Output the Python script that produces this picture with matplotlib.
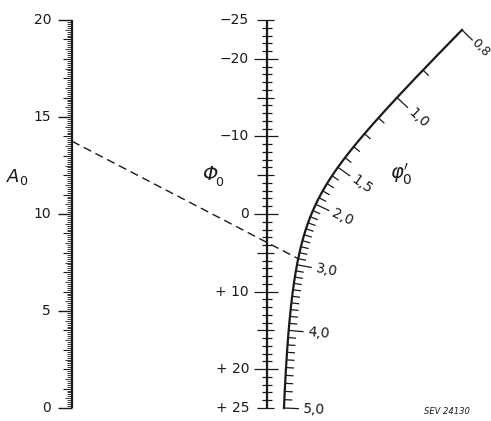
import numpy as np
import matplotlib
matplotlib.use("Agg")
import matplotlib.pyplot as plt

# ---------------- data ----------------
a0_labels = [0, 5, 10, 15, 20]
phi0_labels = [-25, -20, -10, 0, 10, 20, 25]
phi0_label_text = ["\u221225", "\u221220", "\u221210", "0", "+ 10", "+ 20", "+ 25"]
phip_labels = [0.8, 1.0, 1.5, 2.0, 3.0, 4.0, 5.0]
phip_label_text = ["0,8", "1,0", "1,5", "2,0", "3,0", "4,0", "5,0"]
a0_range = (0.0, 20.0, 0.1)      # start, stop, minor step
phi0_range = (-25, 25, 1)
phip_range = (0.8, 5.0, 0.1)
example_a0 = 13.75
example_phip = 2.9

# relation: Phi0 = phi'^2 - A0 / phi'
# nomogram geometry: A0 axis at x=0, Phi0 axis at x=1, heights 0..20
def y_a0(a):
    return np.asarray(a, float)

def y_phi0(p):
    return (25.0 - np.asarray(p, float)) / 2.5

def curve(f):
    f = np.asarray(f, float)
    t = 2.5 * f / (2.5 * f - 1.0)
    y = t * (25.0 - f ** 2) / 2.5
    return t, y

# ---------------- layout ----------------
W, H = 491, 421
SX, SY = 195.0, 19.4          # pixels per unit
X0, Y0 = 72.0, 408.0          # pixel position of (0,0)

plt.rcParams["mathtext.fontset"] = "dejavusans"
fig = plt.figure(figsize=(W / 100, H / 100), dpi=100)
ax = fig.add_axes([0, 0, 1, 1])
ax.set_xlim(-X0 / SX, (W - X0) / SX)
ax.set_ylim((Y0 - H) / SY, Y0 / SY)
ax.axis("off")

def pix(xp, yp):
    return (xp - X0) / SX, (Y0 - yp) / SY

K = "#1a1a1a"
LW_AX = 1.6
LW_T = 0.9
FS = 10

# ---------- A0 scale ----------
ax.plot([0, 0], [0, 20], color=K, lw=LW_AX, solid_capstyle="butt")
vals = np.round(np.arange(a0_range[0], a0_range[1] + 1e-9, a0_range[2]), 1)
for v in vals:
    lw = 0.6
    if abs(v / 5 - round(v / 5)) < 1e-6:
        L, lw = 14, 1.0
    elif abs(v - round(v)) < 1e-6:
        L, lw = 9, 0.8
    elif abs(v * 2 - round(v * 2)) < 1e-6:
        L = 7
    else:
        L = 5.5
    ax.plot([-L / SX, 0], [y_a0(v), y_a0(v)], color=K, lw=lw,
            solid_capstyle="butt")
for v in a0_labels:
    ax.text(-21 / SX, y_a0(v), str(v), ha="right", va="center", fontsize=FS, color=K)
ax.text(*pix(17, 177), r"$A_0$", ha="center", va="center", fontsize=13, color=K)

# ---------- Phi0 scale ----------
ax.plot([1, 1], [y_phi0(-25), y_phi0(25)], color=K, lw=LW_AX, solid_capstyle="butt")
for v in range(phi0_range[0], phi0_range[1] + 1, phi0_range[2]):
    if v in phi0_labels and abs(v) != 25:
        l, r = 13, 11
    elif v % 5 == 0:
        l, r = 10, 7
    else:
        l, r = 5, 5
    ax.plot([1 - l / SX, 1 + r / SX], [y_phi0(v), y_phi0(v)], color=K, lw=LW_T,
            solid_capstyle="butt")
for v, s in zip(phi0_labels, phi0_label_text):
    ax.text(1 - 18 / SX, y_phi0(v), s, ha="right", va="center", fontsize=FS, color=K)
ax.text(*pix(210, 174), "\u03a6", ha="center", va="center", fontsize=14,
        style="italic", color=K)
ax.text(*pix(215.5, 182), "0", ha="left", va="center", fontsize=9, color=K)

# ---------- phi' curved scale ----------
ff = np.linspace(phip_range[0], phip_range[1], 500)
cx, cy = curve(ff)
ax.plot(cx, cy, color=K, lw=LW_AX, solid_joinstyle="miter")

def normal(f):
    h = 1e-4
    x1, y1 = curve(f - h)
    x2, y2 = curve(f + h)
    tx, ty = (x2 - x1) * SX, (y2 - y1) * SY
    nx, ny = -ty, tx
    n = np.hypot(nx, ny)
    return nx / n, ny / n

pvals = np.round(np.arange(phip_range[0], phip_range[1] + 1e-9, phip_range[2]), 1)
for v in pvals:
    major = any(abs(v - m) < 1e-6 for m in phip_labels)
    L = 15 if major else 8
    x, y = curve(v)
    nx, ny = normal(v)
    ax.plot([x, x + L * nx / SX], [y, y + L * ny / SY], color=K, lw=LW_T,
            solid_capstyle="butt")
for v, s in zip(phip_labels, phip_label_text):
    x, y = curve(v)
    nx, ny = normal(v)
    d = 19 if v > 0.85 else 16
    ang = np.degrees(np.arctan2(ny, nx))
    ax.text(x + d * nx / SX, y + d * ny / SY, s, ha="left", va="center",
            rotation=ang, rotation_mode="anchor",
            fontsize=FS if v > 0.85 else FS - 1, color=K)
ax.text(*pix(401, 174), r"$\varphi_0'$", ha="center", va="center", fontsize=14, color=K)

# ---------- example (dashed isopleth) ----------
ex, ey = curve(example_phip)
ln, = ax.plot([0, ex], [y_a0(example_a0), ey], color=K, lw=1.0)
ln.set_dashes((6, 3.5))

ax.text(*pix(447, 411), "SEV 24130", ha="center", va="center", fontsize=6,
        style="italic", color=K)

fig.savefig("out.png", dpi=100)
